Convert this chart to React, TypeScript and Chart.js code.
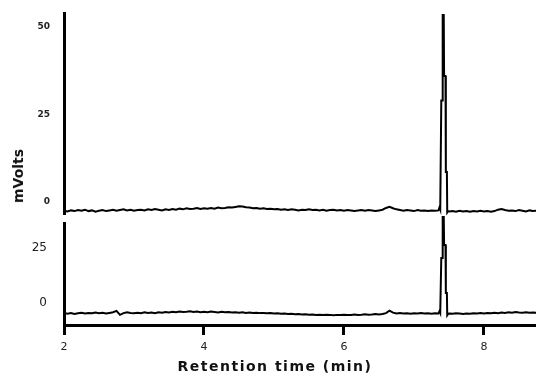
import { useEffect, useRef } from "react";
import { Chart, registerables } from "chart.js";

Chart.register(...registerables);

// Retention time (min)
const times = [
  2.0, 2.05, 2.1, 2.15, 2.2, 2.25, 2.3, 2.35, 2.4, 2.45, 2.5, 2.55, 2.6, 2.65, 2.7, 2.75, 2.8, 2.85, 2.9, 2.95,
  3.0, 3.05, 3.1, 3.15, 3.2, 3.25, 3.3, 3.35, 3.4, 3.45, 3.5, 3.55, 3.6, 3.65, 3.7, 3.75, 3.8, 3.85, 3.9, 3.95,
  4.0, 4.05, 4.1, 4.15, 4.2, 4.25, 4.3, 4.35, 4.4, 4.45, 4.5, 4.55, 4.6, 4.65, 4.7, 4.75, 4.8, 4.85, 4.9, 4.95,
  5.0, 5.05, 5.1, 5.15, 5.2, 5.25, 5.3, 5.35, 5.4, 5.45, 5.5, 5.55, 5.6, 5.65, 5.7, 5.75, 5.8, 5.85, 5.9, 5.95,
  6.0, 6.05, 6.1, 6.15, 6.2, 6.25, 6.3, 6.35, 6.4, 6.45, 6.5, 6.55, 6.6, 6.65, 6.7, 6.75, 6.8, 6.85, 6.9, 6.95,
  7.0, 7.05, 7.1, 7.15, 7.2, 7.25, 7.3,
  7.35, 7.365, 7.375, 7.39, 7.405, 7.41, 7.425, 7.43, 7.45, 7.455, 7.47, 7.475, 7.49, 7.51,
  7.55, 7.6, 7.65, 7.7, 7.75, 7.8, 7.85, 7.9, 7.95, 8.0, 8.05, 8.1, 8.15, 8.2, 8.25, 8.3, 8.35, 8.4, 8.45, 8.5,
  8.55, 8.6, 8.65, 8.7, 8.75,
];

// Upper chromatogram (mVolts)
const upperTrace = [
  -2.5, -2.7, -2.4, -2.6, -2.3, -2.5, -2.2, -2.6, -2.4, -2.8, -2.5, -2.3, -2.6, -2.4, -2.2, -2.5, -2.3, -2.1, -2.4, -2.2,
  -2.5, -2.3, -2.2, -2.4, -2.1, -2.3, -2.0, -2.2, -2.4, -2.1, -2.3, -2.0, -2.2, -1.9, -2.1, -1.8, -2.0, -1.9, -1.7, -2.0,
  -1.8, -1.9, -1.7, -1.9, -1.6, -1.8, -1.7, -1.5, -1.6, -1.4, -1.2, -1.3, -1.5, -1.6, -1.8, -1.7, -1.9, -1.8, -2.0, -1.9,
  -2.1, -2.0, -2.2, -2.1, -2.3, -2.1, -2.2, -2.4, -2.2, -2.3, -2.1, -2.3, -2.2, -2.4, -2.2, -2.5, -2.3, -2.2, -2.4, -2.3,
  -2.5, -2.3, -2.4, -2.6, -2.4, -2.3, -2.5, -2.3, -2.4, -2.6, -2.4, -2.2, -1.7, -1.4, -1.8, -2.1, -2.3, -2.5, -2.3, -2.4,
  -2.6, -2.3, -2.5, -2.4, -2.6, -2.4, -2.5,
  -2.4, -1.5, -2.1, 29, 29, 53.4, 53.4, 36, 36, 8.6, 8.6, -3.0, -2.6, -2.7,
  -2.6, -2.8, -2.5, -2.7, -2.6, -2.8, -2.6, -2.7, -2.5, -2.7, -2.6, -2.8, -2.6, -2.2, -2.0, -2.3, -2.5, -2.4, -2.6, -2.3,
  -2.5, -2.7, -2.4, -2.6, -2.5,
];

// Lower chromatogram (mVolts)
const lowerTrace = [
  -4.5, -4.9, -4.6, -5.0, -4.7, -4.4, -4.8, -4.5, -4.7, -4.3, -4.6, -4.4, -4.8, -4.5, -4.2, -3.6, -5.4, -4.6, -4.2, -4.5,
  -4.7, -4.4, -4.6, -4.2, -4.5, -4.3, -4.6, -4.2, -4.4, -4.1, -4.3, -4.0, -4.2, -3.9, -4.1, -4.0, -3.8, -4.1, -3.9, -4.2,
  -4.0, -4.2, -3.9, -4.1, -4.3, -4.0, -4.2, -4.1, -4.3, -4.2, -4.4, -4.2, -4.5, -4.3, -4.5, -4.4, -4.6, -4.5, -4.7, -4.6,
  -4.8, -4.7, -4.9, -4.8, -5.0, -4.9, -5.1, -5.0, -5.2, -5.1, -5.3, -5.2, -5.4, -5.3, -5.5, -5.3, -5.4, -5.6, -5.4, -5.5,
  -5.3, -5.5, -5.4, -5.2, -5.4, -5.3, -5.1, -5.3, -5.2, -5.0, -5.2, -5.0, -4.6, -3.5, -4.4, -4.8, -4.6, -4.8, -4.7, -4.9,
  -4.7, -4.8, -4.6, -4.8, -4.7, -4.9, -4.7,
  -4.8, -3.6, -4.4, 20.5, 20.5, 40, 40, 26.4, 26.4, 4.5, 4.5, -5.6, -4.9, -4.8,
  -4.9, -4.7, -4.8, -5.0, -4.8, -4.9, -4.7, -4.8, -4.6, -4.8, -4.5, -4.7, -4.4, -4.6, -4.3, -4.5, -4.2, -4.4, -4.1, -4.3,
  -4.4, -4.2, -4.4, -4.3, -4.5,
];

const xTicks = [2, 4, 6, 8];
const upperTicks = [0, 25, 50];
const lowerTicks = [0, 25];

const X_MIN = 2;
const X_MAX = 8.743;

function makeChart(
  canvas: HTMLCanvasElement,
  values: number[],
  yMin: number,
  yMax: number,
  yTicks: number[],
  yFont: any,
  yPad: number,
  showX: boolean,
  padding: any
) {
  const data = times.map((t, i) => ({ x: t, y: values[i] }));
  return new Chart(canvas, {
    type: "line",
    data: {
      datasets: [
        {
          data,
          borderColor: "#000",
          borderWidth: 2,
          pointRadius: 0,
          tension: 0,
          fill: false,
          clip: false as any,
        },
      ],
    },
    options: {
      animation: false,
      responsive: false,
      devicePixelRatio: 1,
      events: [],
      layout: { padding },
      plugins: { legend: { display: false }, tooltip: { enabled: false } },
      scales: {
        x: {
          type: "linear",
          display: showX,
          min: X_MIN,
          max: X_MAX,
          afterBuildTicks: (s: any) => {
            s.ticks = xTicks.map((v) => ({ value: v }));
          },
          afterFit: (s: any) => {
            if (showX) s.height = 51;
            s.paddingLeft = 0;
            s.paddingRight = 0;
          },
          border: { display: true, color: "#000", width: 3 },
          grid: {
            display: true,
            drawOnChartArea: false,
            drawTicks: true,
            tickLength: 10,
            color: "#000",
            lineWidth: 3,
          },
          ticks: {
            color: "#222",
            font: { family: "DejaVu Sans", size: 11 },
            padding: 6,
            maxRotation: 0,
            autoSkip: false,
          },
        },
        y: {
          type: "linear",
          min: yMin,
          max: yMax,
          afterBuildTicks: (s: any) => {
            s.ticks = yTicks.map((v) => ({ value: v }));
          },
          afterFit: (s: any) => {
            s.width = 64;
            s.paddingTop = 0;
            s.paddingBottom = 0;
          },
          border: { display: true, color: "#000", width: 3 },
          grid: { display: false, drawTicks: false, tickLength: 0 },
          ticks: {
            color: "#222",
            font: yFont,
            padding: yPad,
            autoSkip: false,
          },
        },
      },
    },
  });
}

export default function App() {
  const topRef = useRef<HTMLCanvasElement>(null);
  const botRef = useRef<HTMLCanvasElement>(null);

  useEffect(() => {
    const top = makeChart(
      topRef.current!,
      upperTrace,
      -3.43,
      54,
      upperTicks,
      { family: "DejaVu Sans", size: 9, weight: "bold" },
      14,
      false,
      { top: 13, bottom: 6, left: 0, right: 0 }
    );
    const bot = makeChart(
      botRef.current!,
      lowerTrace,
      -10,
      36.36,
      lowerTicks,
      { family: "DejaVu Sans", size: 12 },
      17,
      true,
      { top: 7, bottom: 0, left: 0, right: 0 }
    );
    return () => {
      top.destroy();
      bot.destroy();
    };
  }, []);

  return (
    <div
      style={{
        position: "fixed",
        left: 0,
        top: 0,
        width: 536,
        height: 376,
        background: "#fff",
        overflow: "hidden",
      }}
    >
      <canvas
        ref={topRef}
        width={536}
        height={220}
        style={{ position: "absolute", left: 0, top: 0 }}
      />
      <canvas
        ref={botRef}
        width={536}
        height={160}
        style={{ position: "absolute", left: 0, top: 216 }}
      />
      <div
        style={{
          position: "absolute",
          left: 18,
          top: 176,
          transform: "translate(-50%, -50%) rotate(-90deg)",
          fontFamily: "DejaVu Sans",
          fontWeight: "bold",
          fontSize: 14,
          lineHeight: "16px",
          whiteSpace: "nowrap",
          color: "#111",
        }}
      >
        mVolts
      </div>
      <div
        style={{
          position: "absolute",
          left: 275,
          top: 358,
          transform: "translateX(-50%)",
          fontFamily: "DejaVu Sans",
          fontWeight: "bold",
          fontSize: 14,
          letterSpacing: "1.5px",
          lineHeight: "16px",
          whiteSpace: "nowrap",
          color: "#111",
        }}
      >
        Retention time (min)
      </div>
    </div>
  );
}
